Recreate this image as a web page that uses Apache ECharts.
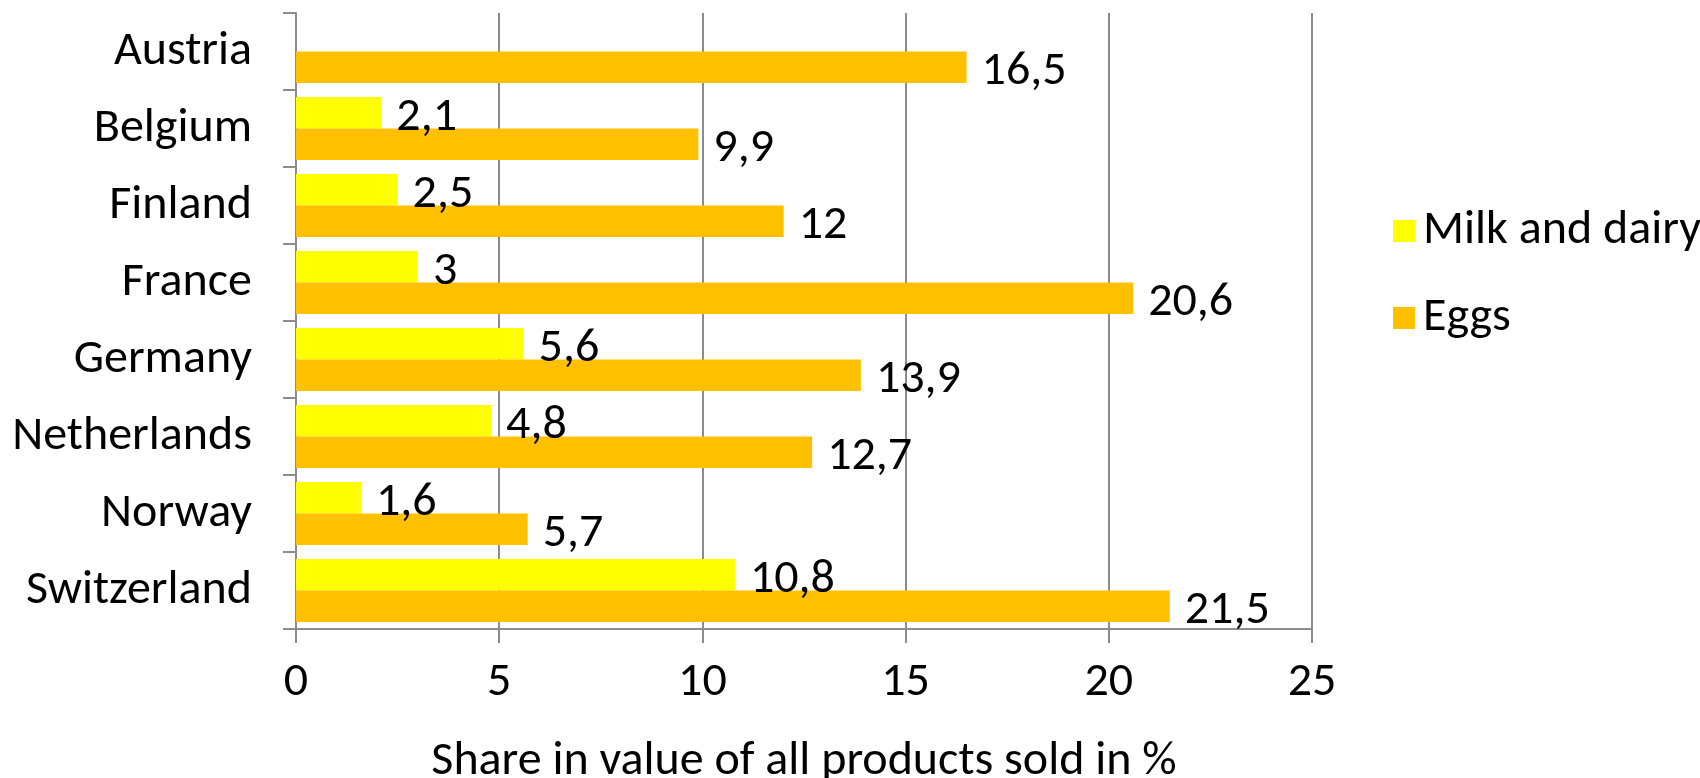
<!DOCTYPE html>
<html>
<head>
<meta charset="utf-8">
<script src="https://cdn.jsdelivr.net/npm/echarts@6/dist/echarts.min.js"></script>
<style>
  html, body { margin: 0; padding: 0; background: #fff; }
  #chart { width: 1700px; height: 778px; }
</style>
</head>
<body>
<div id="chart"></div>
<script>
// Countries, top to bottom
const countries = ['Austria', 'Belgium', 'Finland', 'France', 'Germany', 'Netherlands', 'Norway', 'Switzerland'];
// Share in value of all products sold, %
const milkAndDairy = [null, 2.1, 2.5, 3, 5.6, 4.8, 1.6, 10.8];
const eggs = [16.5, 9.9, 12, 20.6, 13.9, 12.7, 5.7, 21.5];
const seriesNames = ['Milk and dairy', 'Eggs'];
const axisTitle = 'Share in value of all products sold in %';

const FONT = 'Carlito, Lato, sans-serif';
const FS = 48;
const GRID_GRAY = '#8c8c8c';

// Decimal comma for data labels
const commaFmt = p => String(p.value).replace('.', ',');

const chart = echarts.init(document.getElementById('chart'), null, { renderer: 'canvas' });

const barLabel = {
  show: true,
  position: 'right',
  distance: 15,
  offset: [0, 5],
  color: '#000',
  fontFamily: FONT,
  fontSize: FS,
  formatter: commaFmt
};

chart.setOption({
  animation: false,
  backgroundColor: '#fff',
  textStyle: { fontFamily: FONT },
  grid: { left: 296, right: 388, top: 13, bottom: 149, containLabel: false, outerBoundsMode: 'none' },
  legend: {
    orient: 'vertical',
    left: 1388,
    top: 202,
    icon: 'rect',
    itemWidth: 22,
    itemHeight: 22,
    itemGap: 39,
    data: seriesNames,
    textStyle: { fontFamily: FONT, fontSize: FS, color: '#000', lineHeight: 48, padding: [0, 0, 0, 3] }
  },
  xAxis: {
    type: 'value',
    min: 0,
    max: 25,
    interval: 5,
    name: axisTitle,
    nameLocation: 'middle',
    nameGap: 109,
    nameTextStyle: { fontFamily: FONT, fontSize: FS, color: '#000' },
    axisLine: { show: true, lineStyle: { color: GRID_GRAY, width: 2 } },
    axisTick: { show: true, length: 14, lineStyle: { color: GRID_GRAY, width: 2 } },
    axisLabel: { margin: 30, fontFamily: FONT, fontSize: FS, color: '#000' },
    splitLine: { show: true, lineStyle: { color: GRID_GRAY, width: 2 } }
  },
  yAxis: {
    type: 'category',
    inverse: true,
    data: countries,
    axisLine: { show: true, lineStyle: { color: GRID_GRAY, width: 2 } },
    axisTick: { show: true, length: 13, lineStyle: { color: GRID_GRAY, width: 2 } },
    axisLabel: { margin: 44, fontFamily: FONT, fontSize: FS, color: '#000', padding: [4, 0, 0, 0] },
    splitLine: { show: false }
  },
  series: [
    {
      name: seriesNames[0],
      type: 'bar',
      data: milkAndDairy,
      itemStyle: { color: '#FFFF00' },
      barGap: '0%',
      barCategoryGap: '18%',
      label: barLabel
    },
    {
      name: seriesNames[1],
      type: 'bar',
      data: eggs,
      itemStyle: { color: '#FFC000' },
      barGap: '0%',
      barCategoryGap: '18%',
      label: barLabel
    }
  ]
});
</script>
</body>
</html>
